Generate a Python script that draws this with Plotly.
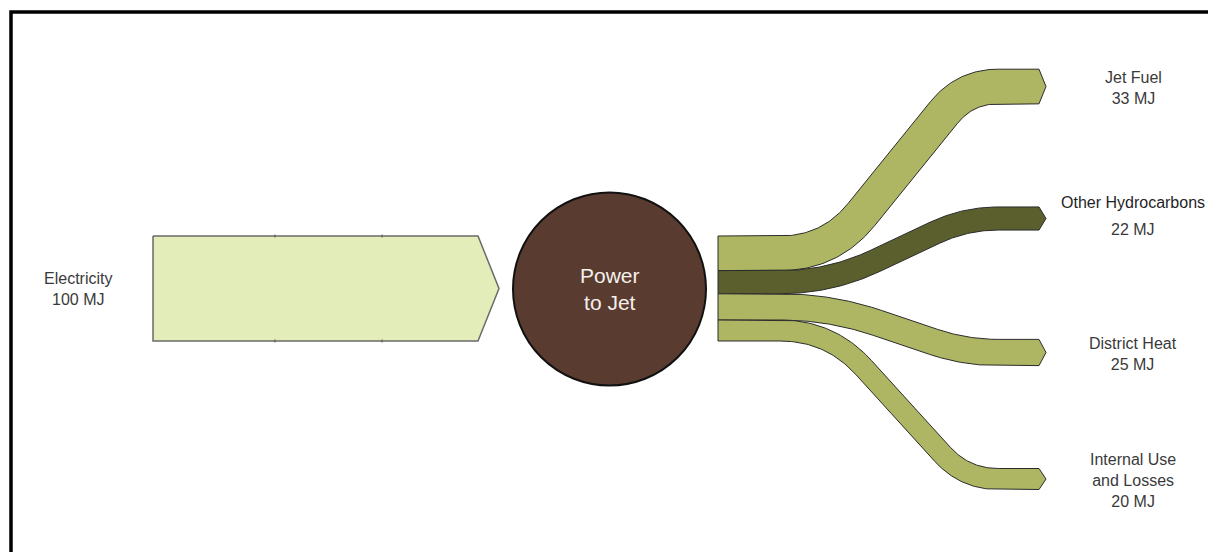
import plotly.graph_objects as go
import numpy as np

# data
source_label = "Electricity"
source_value = 100
hub_label = "Power<br>to Jet"
out_labels = ["Jet Fuel", "Other Hydrocarbons", "District Heat", "Internal Use<br>and Losses"]
out_values = [33, 22, 25, 20]
out_colors = ["#aeb663", "#5b5f2e", "#aeb663", "#aeb663"]
unit = "MJ"

# layout (pixel-like coordinates, y pointing down)
W, H = 1208, 552
px_per_mj = 1.05
band_top = 236
src_x0, src_x1, src_tip = 153, 478, 499
src_joints = [275, 382]
hub_cx, hub_cy, hub_r = 609.5, 289, 96.5
flow_x0, corner_a, corner_b, flow_x1, tip_len = 718, 830, 965, 1039, 7
out_centers = [86.5, 218.5, 352.5, 479]
label_x = 1133
FONT = "Liberation Sans, Arial"


def centerline(x0, xa, xb, x1, y0, y1, r, n=40):
    pts = [np.array(p, float) for p in [(x0, y0), (xa, y0), (xb, y1), (x1, y1)]]
    out = [pts[0]]
    for i in (1, 2):
        p, a, b = pts[i], pts[i - 1], pts[i + 1]
        la, lb = np.linalg.norm(a - p), np.linalg.norm(b - p)
        rr = min(r, 0.45 * la, 0.45 * lb)
        s = p + (a - p) / la * rr
        e = p + (b - p) / lb * rr
        t = np.linspace(0, 1, n)[:, None]
        out.extend(list((1 - t) ** 2 * s + 2 * (1 - t) * t * p + t ** 2 * e))
    out.append(pts[3])
    return np.array(out)


def band_polygon(c, w, tip):
    tang = np.gradient(c, axis=0)
    tang /= np.linalg.norm(tang, axis=1)[:, None]
    nrm = np.column_stack([-tang[:, 1], tang[:, 0]])
    top = c - nrm * w / 2
    bot = c + nrm * w / 2
    xe, ye = c[-1]
    xs = list(top[:, 0]) + [xe + tip] + list(bot[::-1, 0]) + [top[0, 0]]
    ys = list(top[:, 1]) + [ye] + list(bot[::-1, 1]) + [top[0, 1]]
    return xs, ys


fig = go.Figure()

# source arrow
src_h = source_value * px_per_mj
src_mid = band_top + src_h / 2
fig.add_trace(go.Scatter(
    x=[src_x0, src_x1, src_tip, src_x1, src_x0, src_x0],
    y=[band_top, band_top, src_mid, band_top + src_h, band_top + src_h, band_top],
    mode="lines", fill="toself", fillcolor="#e3edba",
    line=dict(color="#6a6a6a", width=1.5), hoverinfo="skip", showlegend=False
))
# small joint ticks on the source arrow edges
for jx in src_joints:
    for yy in (band_top, band_top + src_h):
        fig.add_shape(type="line", x0=jx, x1=jx, y0=yy - 1.5, y1=yy + 1.5,
                      line=dict(color="#555555", width=1))

# output flows
y_cursor = band_top
for lab, val, col, yc1 in zip(out_labels, out_values, out_colors, out_centers):
    w = val * px_per_mj
    yc0 = y_cursor + w / 2
    y_cursor += w
    c = centerline(flow_x0, corner_a, corner_b, flow_x1, yc0, yc1, 50)
    xs, ys = band_polygon(c, w, tip_len)
    fig.add_trace(go.Scatter(
        x=xs, y=ys, mode="lines", fill="toself", fillcolor=col,
        line=dict(color="#2b2b2b", width=1), hoverinfo="skip", showlegend=False
    ))

# hub circle
fig.add_shape(type="circle", x0=hub_cx - hub_r, x1=hub_cx + hub_r,
              y0=hub_cy - hub_r, y1=hub_cy + hub_r,
              fillcolor="#5a3b30", line=dict(color="#111111", width=2))
fig.add_annotation(x=hub_cx, y=hub_cy, text=hub_label, showarrow=False,
                   font=dict(family=FONT, size=21, color="#f4f0ec"))

# frame
fig.add_shape(type="rect", x0=11, y0=12, x1=W + 20, y1=H + 20,
              line=dict(color="#000000", width=3.5))

# labels
fig.add_annotation(x=78, y=src_mid, text=f"{source_label}<br>{source_value} {unit}",
                   showarrow=False, font=dict(family=FONT, size=16, color="#3a3a3a"))
for lab, val, yc1 in zip(out_labels, out_values, out_centers):
    if lab == "Other Hydrocarbons":
        fig.add_annotation(x=label_x, y=202, text=lab, showarrow=False,
                           font=dict(family=FONT, size=16, color="#1f1f28"))
        fig.add_annotation(x=label_x, y=229, text=f"{val} {unit}", showarrow=False,
                           font=dict(family=FONT, size=16, color="#3a3a3a"))
    else:
        fig.add_annotation(x=label_x, y=yc1 + 1, text=f"{lab}<br>{val} {unit}",
                           showarrow=False, font=dict(family=FONT, size=16, color="#3a3a3a"))

fig.update_layout(
    width=W, height=H,
    margin=dict(l=0, r=0, t=0, b=0),
    paper_bgcolor="white", plot_bgcolor="white",
    xaxis=dict(range=[0, W], visible=False, fixedrange=True),
    yaxis=dict(range=[H, 0], visible=False, fixedrange=True),
    showlegend=False
)

fig.write_html("out.html", config={"displayModeBar": False},
               post_script="document.body.style.margin='0';document.body.style.overflow='hidden';")
